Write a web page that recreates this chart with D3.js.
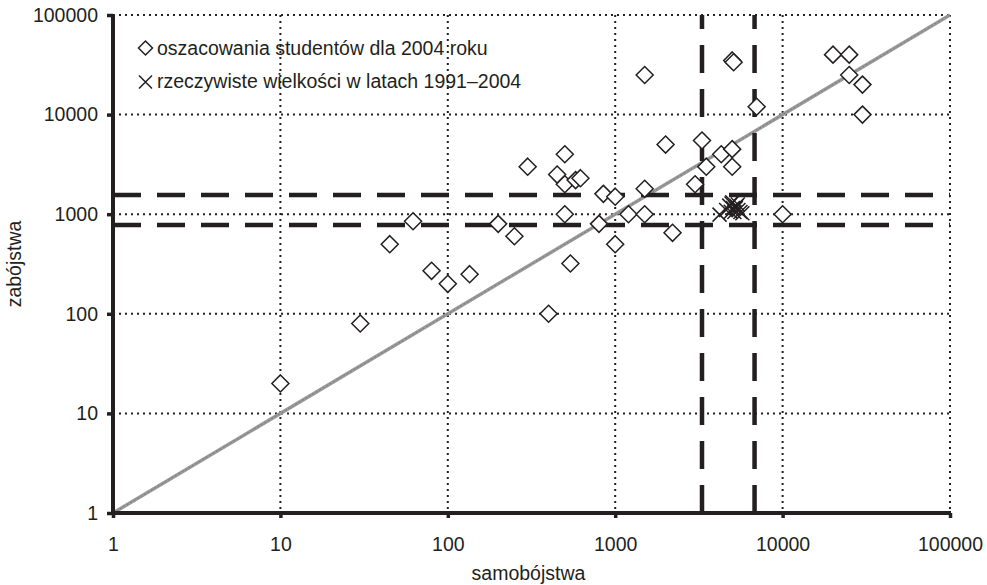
<!DOCTYPE html>
<html><head><meta charset="utf-8">
<script src="https://cdn.jsdelivr.net/npm/d3@7"></script>
<style>
html,body{margin:0;padding:0;background:#fff;}
svg text{font-family:"Liberation Sans",Arial,Helvetica,sans-serif;fill:#231f20;}
</style></head>
<body><svg id="c" width="987" height="585"></svg>
<script>
// student estimates for 2004 (suicides, homicides)
const studentX = [10,30,45,62,80,100,135,200,250,300,400,450,500,500,500,540,580,620,850,1000,800,1000,1200,1500,1500,2200,2000,3300,3000,3500,4300,5000,5000,7000,10000,1500,5000,5100,20000,25000,25000,30000,30000];
const studentY = [20,80,500,850,270,200,250,800,600,3000,100,2500,4000,2000,1000,320,2200,2300,1600,1500,800,500,1000,1800,1000,650,5000,5500,2000,3000,4000,4500,3000,12000,1000,25000,35000,33500,40000,40000,25000,20000,10000];
// actual values 1991-2004
const actualX = [4200,4600,4800,4950,5050,5150,5300,5450,5600,5750,5000,5250,5400,4900];
const actualY = [990,1100,1220,1280,1150,1050,1200,1100,1050,1020,1320,1150,1250,1060];
// dashed range lines
const rangeX = [3300,6800];
const rangeY = [780,1560];
const tickValues = [1,10,100,1000,10000,100000];
const legendLabels = ["oszacowania studentów dla 2004 roku","rzeczywiste wielkości w latach 1991–2004"];
const xTitle = "samobójstwa", yTitle = "zabójstwa";

const svg = d3.select("#c");
const L=113,R=950,T=15,B=513;
const x = d3.scaleLog().domain([1,100000]).range([L,R]);
const y = d3.scaleLog().domain([1,100000]).range([B,T]);
const ink = "#231f20";

// dotted grid
const g = svg.append("g");
g.selectAll("line.vx").data(tickValues.slice(1)).join("line")
 .attr("x1",d=>x(d)).attr("x2",d=>x(d)).attr("y1",T).attr("y2",B)
 .attr("stroke",ink).attr("stroke-width",2).attr("stroke-dasharray","2,4");
g.selectAll("line.hy").data(tickValues.slice(1)).join("line")
 .attr("y1",d=>y(d)).attr("y2",d=>y(d)).attr("x1",L).attr("x2",R)
 .attr("stroke",ink).attr("stroke-width",2).attr("stroke-dasharray","2,4");

// diagonal y=x
svg.append("line").attr("x1",x(1)).attr("y1",y(1)).attr("x2",x(100000)).attr("y2",y(100000))
 .attr("stroke","#9a9a9a").attr("stroke-width",3.5);
svg.append("line").attr("x1",x(1)).attr("y1",y(1)).attr("x2",x(100000)).attr("y2",y(100000))
 .attr("stroke","#7a7a7a").attr("stroke-width",1).attr("stroke-dasharray","2,2");

// dashed range lines
svg.selectAll("line.rx").data(rangeX).join("line")
 .attr("x1",d=>x(d)).attr("x2",d=>x(d)).attr("y1",B).attr("y2",T)
 .attr("stroke",ink).attr("stroke-width",4.5).attr("stroke-dasharray","28,16");
svg.selectAll("line.ry").data(rangeY).join("line")
 .attr("y1",d=>y(d)).attr("y2",d=>y(d)).attr("x1",L).attr("x2",R)
 .attr("stroke",ink).attr("stroke-width",4.5).attr("stroke-dasharray","28,16");

// axes
const xAxis = d3.axisBottom(x).tickValues(tickValues).tickFormat(d3.format("d")).tickSize(5).tickPadding(19);
const yAxis = d3.axisLeft(y).tickValues(tickValues).tickFormat(d3.format("d")).tickSize(6).tickPadding(9);
const gx = svg.append("g").attr("transform",`translate(0,${B})`).call(xAxis);
const gy = svg.append("g").attr("transform",`translate(${L},0)`).call(yAxis);
[gx,gy].forEach(a=>{
  a.select(".domain").remove();
  a.selectAll(".tick line").attr("stroke",ink).attr("stroke-width",3.5);
  a.selectAll(".tick text").attr("font-size",19.5).attr("fill",ink).attr("font-family","Liberation Sans, Arial, sans-serif");
});
svg.append("line").attr("x1",L).attr("x2",L).attr("y1",T-1).attr("y2",B+2).attr("stroke",ink).attr("stroke-width",4);
svg.append("line").attr("x1",L-2).attr("x2",R+1).attr("y1",B).attr("y2",B).attr("stroke",ink).attr("stroke-width",4);

// markers
const diamond = s=>`M0,${-s}L${s},0L0,${s}L${-s},0Z`;
const cross = s=>`M${-s},${-s}L${s},${s}M${-s},${s}L${s},${-s}`;
const students = studentX.map((v,i)=>({x:v,y:studentY[i]}));
const actual = actualX.map((v,i)=>({x:v,y:actualY[i]}));
svg.append("g").selectAll("path").data(students).join("path")
 .attr("transform",d=>`translate(${x(d.x)},${y(d.y)})`)
 .attr("d",diamond(8.5)).attr("fill","#fff").attr("stroke",ink).attr("stroke-width",1.5);
svg.append("g").selectAll("path").data(actual).join("path")
 .attr("transform",d=>`translate(${x(d.x)},${y(d.y)})`)
 .attr("d",cross(7)).attr("fill","none").attr("stroke",ink).attr("stroke-width",1.5);

// legend
const lg = svg.append("g");
lg.append("path").attr("transform","translate(145.5,48)").attr("d",diamond(7)).attr("fill","#fff").attr("stroke",ink).attr("stroke-width",1.5);
lg.append("path").attr("transform","translate(145.5,82)").attr("d",cross(6.5)).attr("fill","none").attr("stroke",ink).attr("stroke-width",1.5);
lg.selectAll("text").data(legendLabels).join("text")
 .attr("x",157).attr("y",(d,i)=>55+i*33).attr("font-size",19.5).text(d=>d);

// axis titles
svg.append("text").attr("x",(L+R)/2-3).attr("y",580).attr("text-anchor","middle").attr("font-size",19.5).text(xTitle);
svg.append("text").attr("transform",`translate(21,${(T+B)/2}) rotate(-90)`).attr("text-anchor","middle").attr("font-size",19.5).text(yTitle);
</script></body></html>
